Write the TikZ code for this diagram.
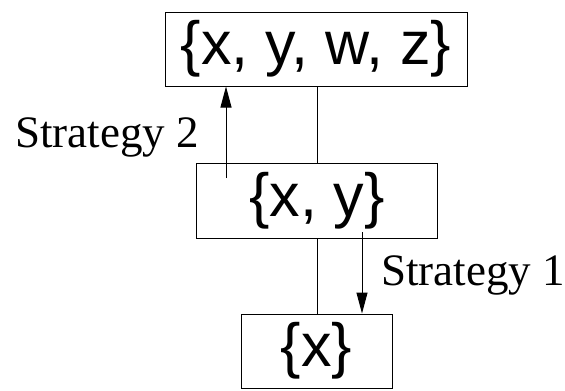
\documentclass[tikz,border=0pt]{standalone}
\usepackage{fontspec}
\setmainfont{Liberation Serif}
\newfontfamily\boxfont{Liberation Sans}
\usetikzlibrary{arrows.meta}
\tikzset{
  setbox/.style={draw, line width=1bp, inner sep=0pt, font=\boxfont\fontsize{61bp}{64bp}\selectfont},
  link/.style={line width=1bp},
  strat/.style={line width=1bp, -{Triangle[length=21bp,width=11bp]}},
  stratlabel/.style={inner sep=0pt, anchor=base west, font=\fontsize{45bp}{48bp}\selectfont}
}
\begin{document}
\begin{tikzpicture}[x=1bp,y=-1bp]
  \useasboundingbox (0,0) rectangle (565,390);
  % the three sets, largest on top
  \node[setbox, minimum width=302bp, minimum height=74bp] (top) at (316,49) {\{x, y, w, z\}};
  \node[setbox, minimum width=241bp, minimum height=75bp] (mid) at (317,200.5) {\{x, y\}};
  \node[setbox, minimum width=151bp, minimum height=74bp] (bot) at (316.5,351) {\{x\}};
  % lattice edges
  \draw[link] (mid.north) -- (mid.north |- top.south);
  \draw[link] (mid.south) -- (mid.south |- bot.north);
  % strategy arrows
  \coordinate (s2) at (226,178);
  \coordinate (s1) at (362,232);
  \draw[strat] (s2) -- (s2 |- top.south);
  \draw[strat] (s1) -- (s1 |- bot.north);
  \node[stratlabel] (l2) at (15,147) {Strategy 2};
  \node[stratlabel] (l1) at (381,285) {Strategy 1};
\end{tikzpicture}
\end{document}
